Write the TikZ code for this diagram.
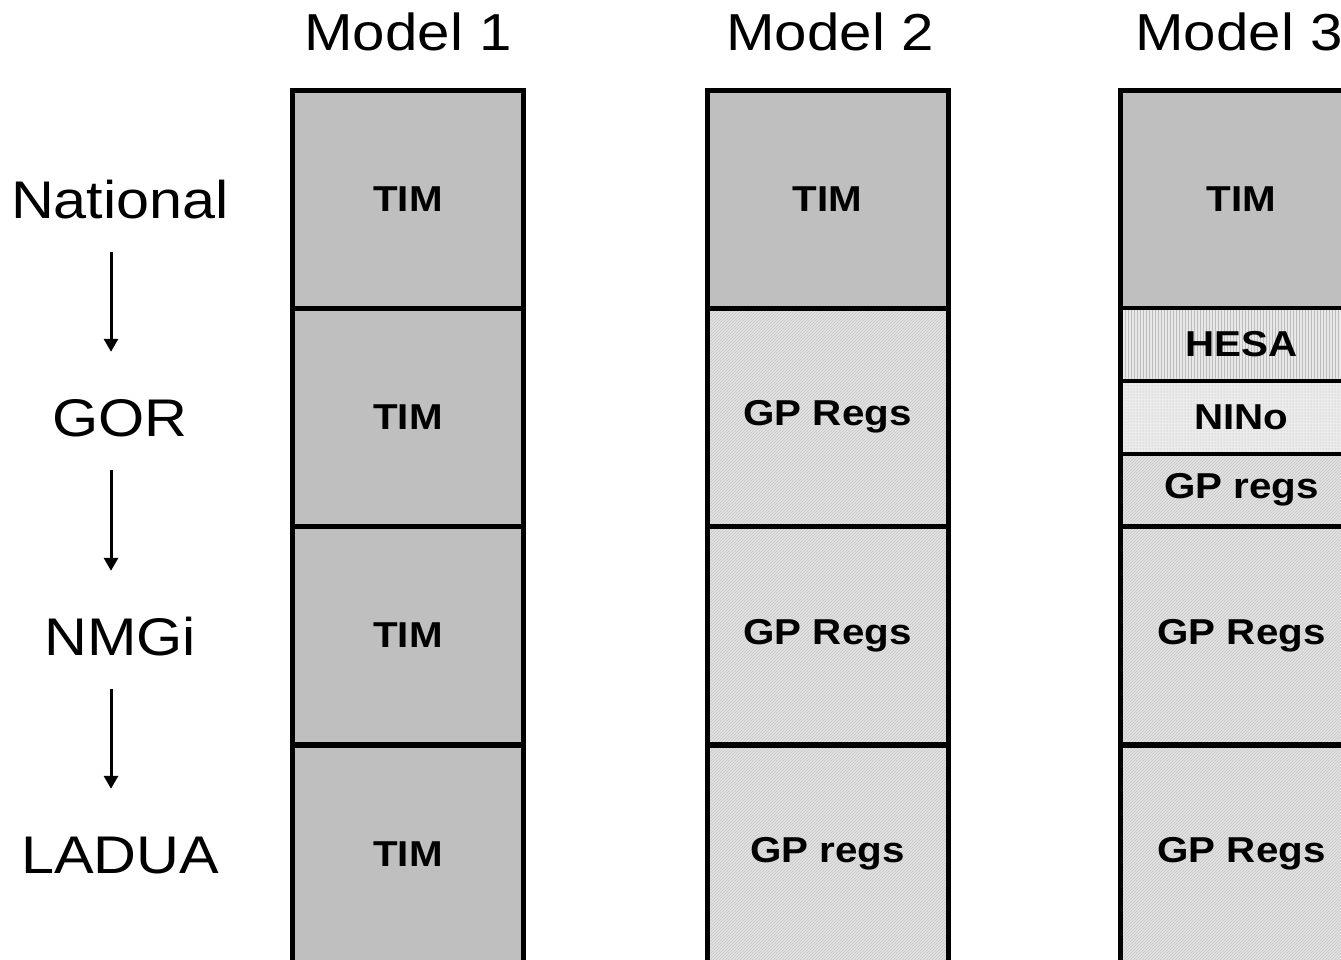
\documentclass[tikz,border=0pt]{standalone}
\usepackage{fontspec}
\setmainfont[FakeStretch=1.12]{Liberation Sans}
\usetikzlibrary{arrows.meta,patterns}

\tikzset{
  level/.style={inner sep=0pt, text height=38pt, text depth=0pt,
    font=\fontsize{53}{53}\selectfont},
  title/.style={inner sep=0pt, font=\fontsize{52}{52}\selectfont},
  cell/.style={draw, line width=5pt, inner sep=0pt, outer sep=0pt,
    minimum height=218pt, font=\bfseries\fontsize{36}{36}\selectfont},
  part/.style={cell, line width=3.5pt, minimum height=73pt},
  timfill/.style={fill=black!25},
  gpfill/.style={preaction={fill=black!11}, pattern=north east lines,
    pattern color=black!22},
  hesafill/.style={preaction={fill=black!9}, pattern=vertical lines,
    pattern color=black!26},
  ninofill/.style={preaction={fill=black!8}, pattern=dots,
    pattern color=black!28},
  down/.style={-{Triangle[width=14pt,length=13pt]}, line width=3pt,
    shorten <=34pt, shorten >=46pt},
}

\begin{document}
\begin{tikzpicture}[x=1pt, y=-1pt]
  \clip (0,0) rectangle (1341,959);
  % column headings
  \node (m1) at (408,32) [title] {Model 1};
  \node (m2) at (830,32) [title] {Model 2};
  \node (m3) at (1239,32) [title] {Model 3};
  % levels
  \node (nat) at (120,199) [level] {National};
  \node (gor) at (120,417) [level] {GOR};
  \node (nmgi) at (120,636) [level] {NMGi};
  \node (ladua) at (120,854) [level] {LADUA};
  \draw[down] ([xshift=-9pt]nat.south) -- ([xshift=-9pt]gor.north);
  \draw[down] ([xshift=-9pt]gor.south) -- ([xshift=-9pt]nmgi.north);
  \draw[down] ([xshift=-9pt]nmgi.south) -- ([xshift=-9pt]ladua.north);
  % model 1
  \node (c1a) at (408,199) [cell, timfill, minimum width=231pt] {TIM};
  \node (c1b) at (408,417) [cell, timfill, minimum width=231pt] {TIM};
  \node (c1c) at (408,635.5) [cell, timfill, minimum width=231pt] {TIM};
  \node (c1d) at (408,854) [cell, timfill, minimum width=231pt] {TIM};
  % model 2
  \node (c2a) at (827.5,199) [cell, timfill, minimum width=241pt] {TIM};
  \node (c2b) at (827.5,417) [cell, gpfill, minimum width=241pt] {GP Regs};
  \node (c2c) at (827.5,635.5) [cell, gpfill, minimum width=241pt] {GP Regs};
  \node (c2d) at (827.5,854) [cell, gpfill, minimum width=241pt] {GP regs};
  % model 3
  \node (c3a) at (1241.5,199) [cell, timfill, minimum width=243pt] {TIM};
  \node (c3b) at (1241.5,344.5) [part, hesafill, minimum width=243pt] {HESA};
  \node (c3c) at (1241.5,417.5) [part, ninofill, minimum width=243pt] {NINo};
  \node (c3d) at (1241.5,490) [part, gpfill, minimum width=243pt,
    minimum height=72pt] {GP regs};
  \node (c3e) at (1241.5,635.5) [cell, gpfill, minimum width=243pt] {GP Regs};
  \node (c3f) at (1241.5,854) [cell, gpfill, minimum width=243pt] {GP Regs};
  \draw[line width=5pt] (c3a.north west) rectangle (c3f.south east);
\end{tikzpicture}
\end{document}
